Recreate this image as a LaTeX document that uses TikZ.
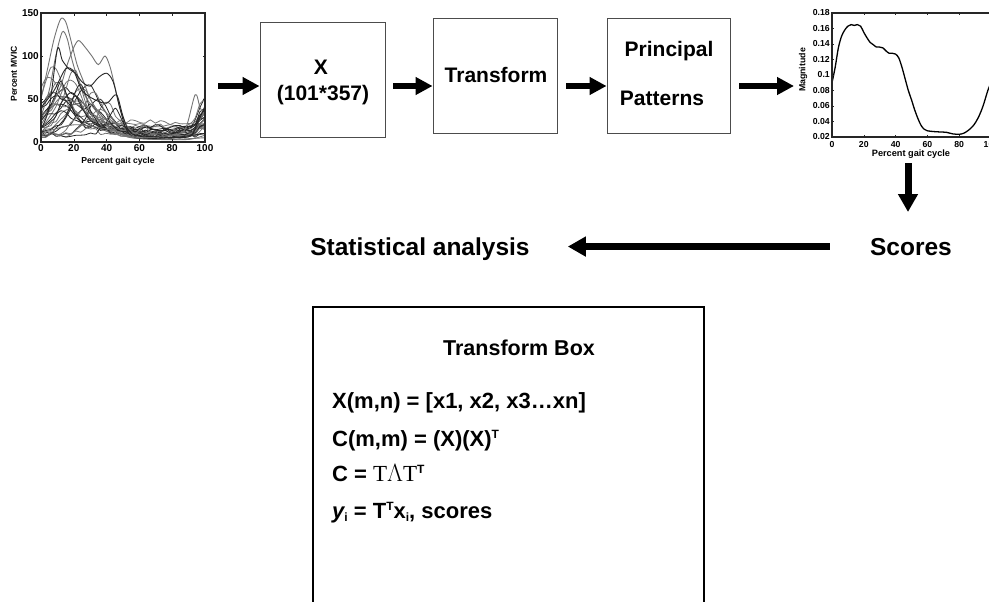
\documentclass[tikz,border=0pt]{standalone}
\usepackage{fontspec}
\setmainfont{Liberation Sans}
\newfontfamily\serifface{Liberation Serif}
\usetikzlibrary{arrows.meta}
\newcommand\fs[1]{\fontsize{#1}{#1}\selectfont}
\newcommand\supT[1]{\raisebox{7.5pt}{\fs{12}#1}}
\newcommand\subI[1]{\raisebox{-3pt}{\fs{12}#1}}
\begin{document}
\begin{tikzpicture}[x=1pt,y=-1pt,
  box/.style={draw=black!70, line width=0.9pt, minimum width=124pt, minimum height=115pt, inner sep=0pt},
  arr/.style={line width=6pt, -{Triangle[length=17pt,width=17pt]}},
  bigarr/.style={line width=7pt, -{Triangle[length=18pt,width=19pt]}},
  lbl/.style={inner sep=0pt, font=\fs{21}\bfseries},
  big/.style={inner sep=0pt, font=\fs{24.5}\bfseries},
  eq/.style={inner sep=0pt, anchor=base west, font=\fs{22}\bfseries},
  tk/.style={inner sep=0pt, font=\fs{10}\bfseries},
  tkr/.style={inner sep=0pt, font=\fs{8.7}\bfseries},
  axl/.style={inner sep=0pt, font=\fs{8.6}\bfseries},
  gc/.style={black!55, line width=0.8pt},
  kc/.style={black!85, line width=0.8pt},
  frame/.style={draw=black!85, line width=1.1pt, inner sep=0pt}]
\useasboundingbox (0,0) rectangle (989,602);
\fill[white] (0,0) rectangle (989,602);

% ---------- left plot ----------
\begin{scope}[shift={(41,142)}, x=1.64pt, y=0.86pt]
  \clip (0,0) rectangle (100,150);
  \pgfmathsetseed{42}
  \foreach \A/\c/\w/\b/\L/\col in {60/10/15/5/10/gc, 50/15/18/8/20/kc, 70/8/12/15/5/gc,
     45/20/20/3/30/kc, 55/25/15/5/15/gc, 40/12/25/10/40/kc, 65/18/14/5/8/gc,
     35/30/15/5/20/kc, 50/5/15/20/12/gc, 30/10/20/10/25/kc, 75/20/12/5/10/gc,
     45/35/12/3/5/kc, 25/15/30/15/35/gc, 55/12/10/10/15/kc, 40/40/10/5/10/gc,
     60/28/16/3/20/kc, 35/22/18/8/25/gc, 20/10/20/12/15/kc, 50/32/14/4/30/gc,
     30/45/8/5/10/kc, 42/16/22/6/18/gc, 58/24/10/6/12/kc, 38/8/18/14/22/kc,
     28/36/14/4/16/gc, 48/18/12/9/28/kc}{
    \draw[\col] plot[smooth, domain=0:100, samples=34]
      (\x, {max(0.8, \b + \A/(1+((\x-\c)/\w)*((\x-\c)/\w))/(1+((\x-\c)/\w)*((\x-\c)/\w))
        + \L/(1+((\x-99)/5)*((\x-99)/5))/(1+((\x-99)/5)*((\x-99)/5)) + 6*rnd)});
  }
  \draw[gc, line width=0.9pt] plot[smooth] coordinates {(0,50)(4,85)(8,120)(12,143)(15,140)(18,120)(22,90)(26,70)(30,50)(35,35)(40,25)(48,10)(55,5)(70,3)(90,3)(100,8)};
  \draw[gc, line width=0.9pt] plot[smooth] coordinates {(0,30)(5,60)(9,100)(13,128)(16,120)(19,95)(23,70)(28,50)(34,35)(40,20)(50,8)(60,4)(80,3)(100,5)};
  \draw[gc, line width=0.9pt] plot[smooth] coordinates {(0,20)(6,40)(12,65)(16,90)(20,110)(23,118)(27,110)(31,100)(35,90)(39,100)(42,88)(45,65)(48,40)(52,20)(57,10)(60,14)(63,20)(66,12)(70,5)(85,5)(100,10)};
  \draw[kc, line width=0.9pt] plot[smooth] coordinates {(0,15)(5,40)(10,108)(13,95)(17,85)(21,80)(25,70)(30,65)(35,75)(40,80)(44,70)(48,40)(52,15)(58,5)(80,5)(100,10)};
  \draw[gc, line width=0.9pt] plot[smooth] coordinates {(0,10)(20,20)(40,15)(60,5)(80,8)(88,15)(94,55)(97,40)(100,30)};
  \draw[kc, line width=0.9pt] plot[smooth] coordinates {(0,40)(8,60)(15,85)(20,82)(25,60)(32,50)(40,45)(46,55)(50,30)(55,10)(70,6)(90,6)(95,20)(100,42)};
  \foreach \v in {20,40,60,80}{
    \draw[black!85, line width=0.5pt] (\v,0) -- (\v,3) (\v,150) -- (\v,147);}
  \foreach \v in {50,100}{
    \draw[black!85, line width=0.5pt] (0,\v) -- (1.5,\v) (100,\v) -- (98.5,\v);}
\end{scope}
\node[frame, minimum width=164pt, minimum height=129pt] (plotL) at (123,77.5) {};
\foreach \v in {0,20,40,60,80,100}
  \node[tk, anchor=base] (lx\v) at ({41+1.64*\v},151) {\v};
\foreach \v/\p in {0/142,50/99,100/56,150/13}
  \node[tk, anchor=east] (ly\v) at (39,\p) {\v};
\node[axl, anchor=base] (lxl) at (118,164) {Percent gait cycle};
\node[axl, rotate=90] (lyl) at (14,74) {Percent MVIC};

% ---------- right plot ----------
\begin{scope}[shift={(832,137)}, x=1.59pt, y=7.75pt]
  \draw[black, line width=1.3pt] plot[smooth] coordinates {(0,7)(2,9)(4,11.5)(6,13)(8,13.8)(10,14.3)(12,14.5)(14,14.4)(16,14.5)(18,14.3)(20,13.5)(22,12.8)(24,12.2)(26,11.9)(28,11.6)(30,11.6)(32,11.5)(34,11.1)(36,10.8)(38,10.8)(40,10.7)(42,10.2)(44,9)(46,7.5)(48,6)(50,4.8)(52,3.5)(54,2.4)(56,1.5)(58,1)(60,0.8)(64,0.7)(68,0.65)(72,0.6)(76,0.4)(80,0.35)(83,0.5)(86,0.9)(89,1.5)(92,2.5)(95,4)(98,6)(100,7)};
  \foreach \v in {20,40,60,80}{
    \draw[black!85, line width=0.5pt] (\v,0) -- (\v,0.3) (\v,16) -- (\v,15.7);}
  \foreach \v in {2,4,...,14}{
    \draw[black!85, line width=0.5pt] (0,\v) -- (1.5,\v);}
\end{scope}
\node[frame, minimum width=160pt, minimum height=124pt] (plotR) at (912,75) {};
\foreach \v in {0,20,40,60,80,100}
  \node[tkr, anchor=base] (rx\v) at ({832+1.59*\v},147) {\v};
\foreach \v/\p in {0.02/137,0.04/121.5,0.06/106,0.08/90.5,0.1/75,0.12/59.5,0.14/44,0.16/28.5,0.18/13}
  \node[tkr, anchor=east] (ry\p) at (830,\p) {\v};
\node[axl, font=\fs{9.2}\bfseries, anchor=base] (rxl) at (911,156) {Percent gait cycle};
\node[axl, font=\fs{8.8}\bfseries, rotate=90] (ryl) at (803,70) {Magnitude};

% ---------- top boxes ----------
\node[box, minimum width=125pt] (boxX) at (322.5,79.5) {};
\node[box] (boxT) at (495,75.5) {};
\node[box, minimum width=123pt] (boxP) at (668.5,75.5) {};
\node[lbl, anchor=base] (tX) at (321,75) {X};
\node[lbl, anchor=base] (tXd) at (323,100) {(101*357)};
\node[lbl, anchor=base] (tT) at (496,83) {Transform};
\node[lbl, anchor=base] (tP1) at (669,57) {Principal};
\node[lbl, anchor=base] (tP2) at (662,106) {Patterns};

\coordinate (a0) at (218,86);
\coordinate (aR) at (794,86);
\draw[arr] (a0) -- (a0 -| boxX.west);
\draw[arr] ([xshift=8pt]boxX.east |- a0) -- (boxT.west |- a0);
\draw[arr] ([xshift=9pt]boxT.east |- a0) -- (boxP.west |- a0);
\draw[arr] ([xshift=9pt]boxP.east |- a0) -- (aR);

% ---------- scores / statistics ----------
\node[big, anchor=base] (scores) at (911,255) {Scores};
\node[big, anchor=base] (stat) at (420,255) {Statistical analysis};
\coordinate (dTop) at (908,163);
\coordinate (dEnd) at (908,212);
\draw[bigarr] (dTop) -- (dEnd);
\coordinate (sStart) at ([xshift=-40pt]scores.west);
\draw[bigarr] (sStart) -- ([xshift=38pt]stat.east |- sStart);

% ---------- transform box ----------
\node[draw=black, line width=1.8pt, minimum width=391pt, minimum height=330pt, anchor=north west, inner sep=0pt] (tbox) at (312,306) {};
\node[inner sep=0pt, anchor=base, font=\fs{21.5}\bfseries] (tbt) at (519,355) {Transform Box};
\node[eq] (e1) at (332,408) {X(m,n) = [x1, x2, x3…xn]};
\node[eq] (e2) at (332,446) {C(m,m) = (X)(X)\supT{T}};
\node[eq] (e3) at (332,481) {C = {\serifface\mdseries\fs{23}T$\Lambda$T}\supT{T}};
\node[eq] (e4) at (332,518) {{\itshape y}\subI{i} = T\supT{T}x\subI{i}, scores};
\end{tikzpicture}
\end{document}
